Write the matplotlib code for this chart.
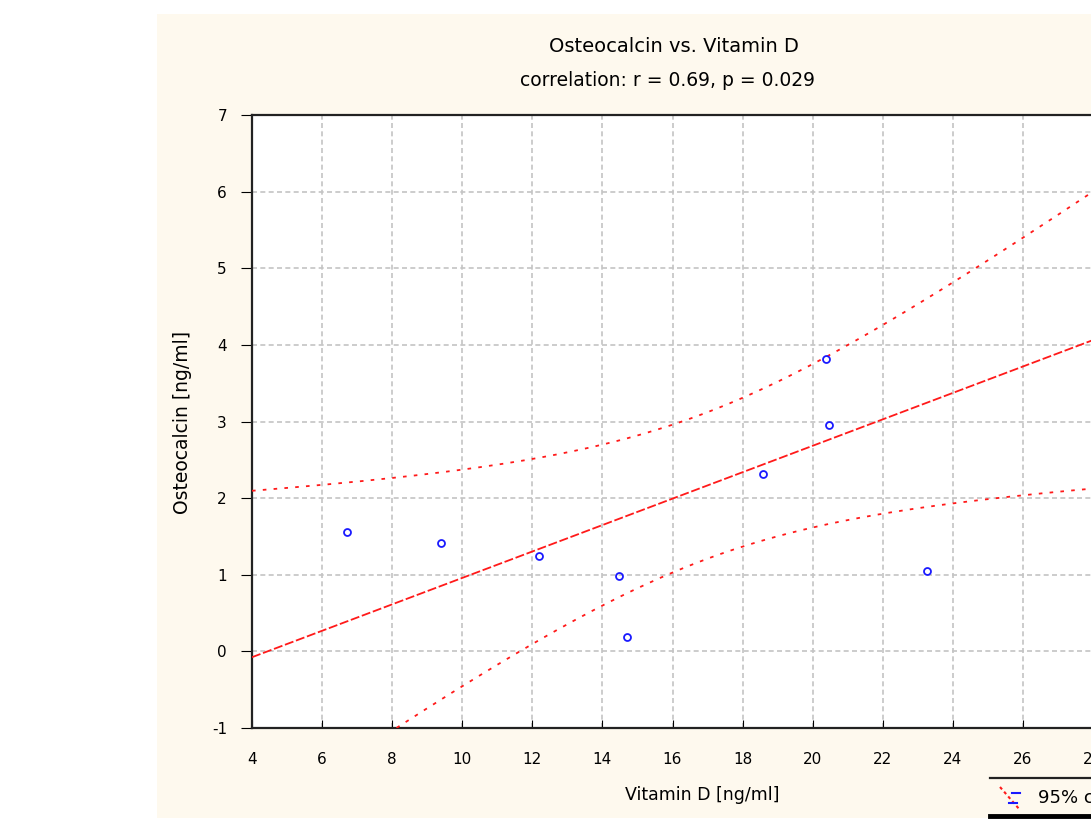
import matplotlib
matplotlib.use('Agg')
import matplotlib.pyplot as plt
import numpy as np
from matplotlib.patches import Rectangle
from matplotlib.lines import Line2D

plt.rcParams['axes.unicode_minus'] = False

# vitamin D vs osteocalcin (last point sits past the cropped right edge)
vit_d = [6.71, 9.38, 12.2, 14.47, 14.71, 18.59, 20.37, 20.46, 23.25, 28.6]
osteo = [1.56, 1.42, 1.25, 0.99, 0.19, 2.32, 3.81, 2.95, 1.05, 5.9]
x_ticks = [4, 6, 8, 10, 12, 14, 16, 18, 20, 22, 24, 26, 28]
y_ticks = [-1, 0, 1, 2, 3, 4, 5, 6, 7]
title_1 = "Osteocalcin vs. Vitamin D"
title_2 = "correlation: r = 0.69, p = 0.029"
t_crit = 2.306  # t(0.975, df=8)

W, H = 1091, 824
fig = plt.figure(figsize=(W / 100, H / 100), dpi=100)
fig.patch.set_facecolor('white')
fig.add_artist(Rectangle((157 / W, 1 - 818 / H), 1.0, (818 - 14) / H,
                         transform=fig.transFigure, facecolor='#fef9ee', edgecolor='none', zorder=0))

ax = fig.add_axes([252 / W, 1 - 728 / H, 841 / W, 613 / H])
ax.set_facecolor('white')

x = np.array(vit_d)
y = np.array(osteo)
n = len(x)
slope, icpt = np.polyfit(x, y, 1)
xs = np.linspace(4, 28, 200)
fit = icpt + slope * xs
resid = y - (icpt + slope * x)
s = np.sqrt(np.sum(resid ** 2) / (n - 2))
sxx = np.sum((x - x.mean()) ** 2)
half = t_crit * s * np.sqrt(1 / n + (xs - x.mean()) ** 2 / sxx)

red = '#ff1a1a'
ax.plot(xs, fit, color=red, lw=1.3, ls=(0, (5, 1.5)), zorder=3)
ax.plot(xs, fit + half, color=red, lw=1.3, ls=(0, (2, 4)), zorder=3)
ax.plot(xs, fit - half, color=red, lw=1.3, ls=(0, (2, 4)), zorder=3)
ax.plot(x, y, 'o', color='#1a1aff', mfc='none', mew=1.3, ms=5, zorder=4)

ax.set_xlim(4, 28)
ax.set_ylim(-1, 7)
ax.set_xticks(x_ticks)
ax.set_yticks(y_ticks)
ax.grid(True, color='#c4c4c4', ls=(0, (3, 2)), lw=1.2)
ax.tick_params(axis='x', direction='in', length=6, pad=17, labelsize=11)
ax.tick_params(axis='y', direction='out', length=8, pad=10, labelsize=11)
for sp in ax.spines.values():
    sp.set_linewidth(1.6)
    sp.set_color('#222222')

fig.text(674 / W, 1 - 46 / H, title_1, ha='center', va='center', fontsize=14)
fig.text(668 / W, 1 - 81 / H, title_2, ha='center', va='center', fontsize=13.5)
fig.text(183 / W, 1 - 422 / H, "Osteocalcin [ng/ml]", ha='center', va='center', rotation=90, fontsize=13.5)
fig.text(702 / W, 1 - 795 / H, "Vitamin D [ng/ml]", ha='center', va='center', fontsize=12.5)

# cropped legend in the bottom right corner
fig.add_artist(Line2D([990 / W, 1.0], [1 - 778 / H] * 2, transform=fig.transFigure, color='#222222', lw=1.6))
fig.add_artist(Line2D([990 / W, 1.0], [1 - 816 / H] * 2, transform=fig.transFigure, color='black', lw=3.5))
fig.add_artist(Line2D([1000 / W, 1020 / W], [1 - 787 / H, 1 - 810 / H], transform=fig.transFigure,
                      color=red, lw=1.5, ls=(0, (1.5, 1.5))))
fig.add_artist(Line2D([1012 / W, 1020 / W], [1 - 793 / H] * 2, transform=fig.transFigure, color='#1a1aff', lw=1.5))
fig.add_artist(Line2D([1009 / W, 1017 / W], [1 - 803 / H] * 2, transform=fig.transFigure, color='#1a1aff', lw=1.5))
fig.text(1038 / W, 1 - 798 / H, "95% confidence", ha='left', va='center', fontsize=13)

fig.savefig('out.png', dpi=100)
